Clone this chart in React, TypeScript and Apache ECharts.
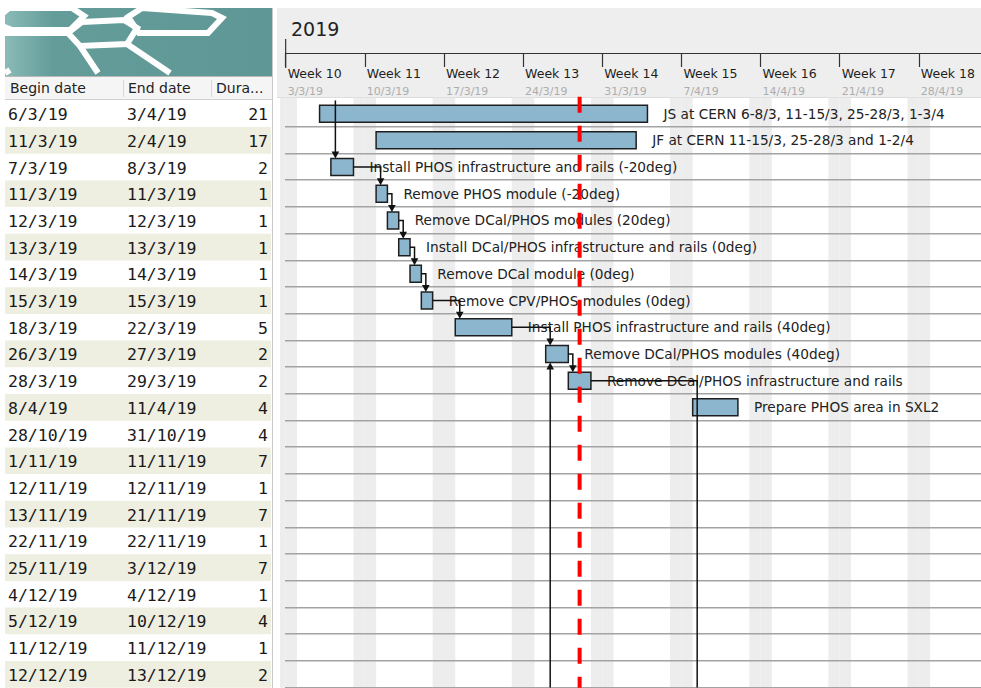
import React, { useEffect, useRef } from 'react';
import * as echarts from 'echarts';

// ---------- data ----------
const taskNames = [
  'JS at CERN 6-8/3, 11-15/3, 25-28/3, 1-3/4',
  'JF at CERN 11-15/3, 25-28/3 and 1-2/4',
  'Install PHOS infrastructure and rails (-20deg)',
  'Remove PHOS module (-20deg)',
  'Remove DCal/PHOS modules (20deg)',
  'Install DCal/PHOS infrastructure and rails (0deg)',
  'Remove DCal module (0deg)',
  'Remove CPV/PHOS modules (0deg)',
  'Install PHOS infrastructure and rails (40deg)',
  'Remove DCal/PHOS modules (40deg)',
  'Remove DCal/PHOS infrastructure and rails',
  'Prepare PHOS area in SXL2',
  '', '', '', '', '', '', '', '', '', '',
];
const beginDates = [
  '6/3/19', '11/3/19', '7/3/19', '11/3/19', '12/3/19', '13/3/19', '14/3/19', '15/3/19',
  '18/3/19', '26/3/19', '28/3/19', '8/4/19', '28/10/19', '1/11/19', '12/11/19', '13/11/19',
  '22/11/19', '25/11/19', '4/12/19', '5/12/19', '11/12/19', '12/12/19',
];
const endDates = [
  '3/4/19', '2/4/19', '8/3/19', '11/3/19', '12/3/19', '13/3/19', '14/3/19', '15/3/19',
  '22/3/19', '27/3/19', '29/3/19', '11/4/19', '31/10/19', '11/11/19', '12/11/19', '21/11/19',
  '22/11/19', '3/12/19', '4/12/19', '10/12/19', '11/12/19', '13/12/19',
];
const durations = [21, 17, 2, 1, 1, 1, 1, 1, 5, 2, 2, 4, 4, 7, 1, 7, 1, 7, 1, 4, 1, 2];
const columnTitles = ['Begin date', 'End date', 'Dura...'];
const yearLabel = '2019';
const weekLabels = ['Week 10', 'Week 11', 'Week 12', 'Week 13', 'Week 14', 'Week 15', 'Week 16', 'Week 17', 'Week 18'];
const weekStartLabels = ['3/3/19', '10/3/19', '17/3/19', '24/3/19', '31/3/19', '7/4/19', '14/4/19', '21/4/19', '28/4/19'];
const todayDate = '29/3/19';
// dependencies: -1 = predecessor above the view, 99 = task below the view
const depFrom = [-1, 2, 3, 4, 5, 6, 7, 8, 9, 10, 99];
const depTo = [2, 3, 4, 5, 6, 7, 8, 9, 10, 99, 9];
const offscreenSuccessorStart = '8/4/19';

// ---------- helpers ----------
const ORIGIN = Date.UTC(2019, 2, 3);
function dayOf(s: string): number {
  const [d, m, y] = s.split('/').map(Number);
  return Math.round((Date.UTC(2000 + y, m - 1, d) - ORIGIN) / 86400000);
}
const N = taskNames.length;
const X_MIN = -0.5;
const X_MAX = 61.5;
const GRID_LEFT = 280;
const GRID_W = 701;
const GRID_TOP = 100.3;
const ROW_H = 26.7;
const DAY_PX = GRID_W / (X_MAX - X_MIN);
const BAR_H = 17;

const barData = taskNames.map((_, i) => [dayOf(beginDates[i]), dayOf(endDates[i]) + 1, i]);
const weekendDays: number[] = [];
for (let d = Math.floor(X_MIN); d <= Math.ceil(X_MAX); d++) {
  const wd = ((d % 7) + 7) % 7;
  if (wd === 0 || wd === 6) weekendDays.push(d);
}
const depData = depFrom.map((f, k) => {
  const t = depTo[k];
  const fromEnd = f >= 0 && f < N ? dayOf(endDates[f]) + 1 : 0;
  const toStart = t >= 0 && t < N ? dayOf(beginDates[t]) : dayOf(offscreenSuccessorStart);
  const refRow = t >= 0 && t < N ? t : f;
  return [fromEnd, toStart, refRow, f, t];
});
const weekTicks = weekLabels.map((_, i) => i * 7);

const FONT = '"DejaVu Sans", "Noto Sans", sans-serif';

function hexPoly(points: number[][]) {
  return {
    type: 'polygon',
    shape: { points },
    style: { fill: 'none', stroke: '#ffffff', lineWidth: 6, lineJoin: 'miter' },
    z: 1,
  };
}
function whiteLine(points: number[][]) {
  return {
    type: 'polyline',
    shape: { points },
    style: { fill: 'none', stroke: '#ffffff', lineWidth: 6 },
    z: 1,
  };
}

export default function App() {
  const ref = useRef<HTMLDivElement>(null);
  useEffect(() => {
    const chart = echarts.init(ref.current!, null, { renderer: 'svg' });
    const option: any = {
      animation: false,
      backgroundColor: '#ffffff',
      grid: [
        { left: GRID_LEFT, top: GRID_TOP, width: GRID_W, height: N * ROW_H },
        { left: GRID_LEFT + 0.5 * DAY_PX, top: 53, width: GRID_W - 0.5 * DAY_PX, height: 40 },
        { left: 5, top: GRID_TOP, width: 267, height: N * ROW_H },
      ],
      xAxis: [
        { gridIndex: 0, type: 'value', min: X_MIN, max: X_MAX, show: false },
        {
          gridIndex: 1, type: 'value', min: 0, max: X_MAX, interval: 7, position: 'top', z: 5,
          axisLine: { show: true, onZero: false, lineStyle: { color: '#333', width: 1.2 } },
          axisTick: { show: true, inside: true, length: 14, lineStyle: { color: '#333', width: 1.2 }, customValues: weekTicks },
          splitLine: { show: false },
          axisLabel: {
            show: true, inside: true, margin: 13, align: 'left', verticalAlign: 'top',
            customValues: weekTicks,
            formatter: (v: number) => {
              const i = Math.round(v / 7);
              if (Math.abs(v - i * 7) > 0.01 || !weekLabels[i]) return '';
              return `{w|${weekLabels[i]}}\n{d|${weekStartLabels[i]}}`;
            },
            rich: {
              w: { fontFamily: FONT, fontSize: 12.5, color: '#1e1e1e', lineHeight: 15, padding: [0, 0, 0, 2] },
              d: { fontFamily: FONT, fontSize: 11, color: '#adadad', lineHeight: 21, padding: [0, 0, 0, 2] },
            },
          },
        },
        { gridIndex: 2, type: 'value', min: 0, max: 1, show: false },
      ],
      yAxis: [
        { gridIndex: 0, type: 'category', data: taskNames.map((_, i) => i), inverse: true, show: false },
        { gridIndex: 1, type: 'value', min: 0, max: 1, show: false },
        { gridIndex: 2, type: 'category', data: taskNames.map((_, i) => i), inverse: true, show: false },
      ],
      graphic: [
        // logo
        {
          type: 'rect', shape: { x: 5, y: 8, width: 267, height: 68 }, z: 0,
          style: {
            fill: new echarts.graphic.LinearGradient(0, 0, 1, 0, [
              { offset: 0, color: '#8abbb8' },
              { offset: 0.18, color: '#639c99' },
              { offset: 1, color: '#5e9795' },
            ]),
          },
        },
        hexPoly([[-8, 22], [9, 8], [72, 8], [84, 16], [70, 30], [12, 30]]),
        hexPoly([[68, 33], [82, 22], [124, 20], [137, 28], [127, 44], [80, 46]]),
        hexPoly([[128, 17], [142, 8], [212, 13], [222, 18], [208, 33], [139, 33]]),
        whiteLine([[5, 33], [68, 33]]),
        whiteLine([[80, 46], [98, 73]]),
        whiteLine([[127, 44], [170, 73]]),
        whiteLine([[5, 73], [10, 70]]),
        // table header
        { type: 'rect', shape: { x: 5, y: 77, width: 267, height: 22 }, style: { fill: '#f5f5f5' }, z: 0 },
        { type: 'line', shape: { x1: 5, y1: 76.5, x2: 272, y2: 76.5 }, style: { stroke: '#b9b9b9', lineWidth: 1 }, z: 1 },
        { type: 'line', shape: { x1: 5, y1: 99.5, x2: 272, y2: 99.5 }, style: { stroke: '#d0d0d0', lineWidth: 1 }, z: 1 },
        { type: 'line', shape: { x1: 123.5, y1: 80, x2: 123.5, y2: 97 }, style: { stroke: '#d8d8d8', lineWidth: 1 }, z: 1 },
        { type: 'line', shape: { x1: 211.5, y1: 80, x2: 211.5, y2: 97 }, style: { stroke: '#d8d8d8', lineWidth: 1 }, z: 1 },
        { type: 'text', x: 10, y: 88, style: { text: columnTitles[0], font: `14px ${FONT}`, fill: '#222', verticalAlign: 'middle' }, z: 2 },
        { type: 'text', x: 128, y: 88, style: { text: columnTitles[1], font: `14px ${FONT}`, fill: '#222', verticalAlign: 'middle' }, z: 2 },
        { type: 'text', x: 216, y: 88, style: { text: columnTitles[2], font: `14px ${FONT}`, fill: '#222', verticalAlign: 'middle' }, z: 2 },
        // separator
        { type: 'line', shape: { x1: 272.5, y1: 8, x2: 272.5, y2: 688 }, style: { stroke: '#c8c8c8', lineWidth: 1 }, z: 1 },
        // gantt header panel
        { type: 'rect', shape: { x: 277, y: 8, width: 704, height: 90 }, style: { fill: '#eeeeee' }, z: 0 },
        { type: 'line', shape: { x1: 277, y1: 97.5, x2: 981, y2: 97.5 }, style: { stroke: '#dddddd', lineWidth: 1 }, z: 1 },
        { type: 'text', x: 291, y: 29, style: { text: yearLabel, font: `19px ${FONT}`, fill: '#222', verticalAlign: 'middle' }, z: 2 },
        { type: 'line', shape: { x1: GRID_LEFT + 0.5 * DAY_PX, y1: 39, x2: GRID_LEFT + 0.5 * DAY_PX, y2: 68 }, style: { stroke: '#333', lineWidth: 1.2 }, z: 6 },
      ],
      series: [
        // weekend stripes
        {
          type: 'custom', xAxisIndex: 0, yAxisIndex: 0, z: 1, clip: false, silent: true,
          data: weekendDays.map((d) => [d, 0]),
          encode: { x: 0, y: 1 },
          renderItem: (params: any, api: any) => {
            const cs = params.coordSys;
            const d = api.value(0);
            let x0 = api.coord([d, 0])[0];
            let x1 = api.coord([d + 1, 0])[0];
            x0 = Math.max(x0, cs.x);
            x1 = Math.min(x1, cs.x + cs.width);
            if (x1 <= x0) return null;
            return {
              type: 'rect',
              shape: { x: x0, y: cs.y - 2.5, width: x1 - x0, height: cs.height + 2.5 },
              style: { fill: '#ededed' },
            };
          },
        },
        // row lines
        {
          type: 'custom', xAxisIndex: 0, yAxisIndex: 0, z: 2, clip: false, silent: true,
          data: taskNames.map((_, i) => [0, i]),
          encode: { x: 0, y: 1 },
          renderItem: (params: any, api: any) => {
            const cs = params.coordSys;
            const c = api.coord([0, api.value(1)]);
            const h = api.size([0, 1])[1];
            const y = Math.round(c[1] + h / 2) - 0.25;
            return {
              type: 'line',
              shape: { x1: cs.x + 5, y1: y, x2: cs.x + cs.width, y2: y },
              style: { stroke: '#a3a3a3', lineWidth: 1.5 },
            };
          },
        },
        // task bars
        {
          type: 'custom', xAxisIndex: 0, yAxisIndex: 0, z: 3, clip: true,
          data: barData,
          encode: { x: [0, 1], y: 2 },
          renderItem: (params: any, api: any) => {
            const row = api.value(2);
            const p0 = api.coord([api.value(0), row]);
            const p1 = api.coord([api.value(1), row]);
            return {
              type: 'group',
              children: [
                {
                  type: 'rect',
                  shape: { x: p0[0], y: p0[1] - BAR_H / 2, width: p1[0] - p0[0], height: BAR_H },
                  style: { fill: '#8cb6ce', stroke: '#1f1f1f', lineWidth: 1.5 },
                },
                {
                  type: 'text', x: p1[0] + 16, y: p0[1],
                  style: { text: taskNames[row], font: `13.7px ${FONT}`, fill: '#222', verticalAlign: 'middle', align: 'left' },
                },
              ],
            };
          },
        },
        // dependencies
        {
          type: 'custom', xAxisIndex: 0, yAxisIndex: 0, z: 4, clip: true, silent: true,
          data: depData,
          encode: { x: [0, 1], y: 2 },
          renderItem: (params: any, api: any) => {
            const cs = params.coordSys;
            const fromEnd = api.value(0);
            const toStart = api.value(1);
            const from = api.value(3);
            const to = api.value(4);
            const top = cs.y;
            const bottom = cs.y + cs.height;
            const xTo = api.coord([toStart, 0])[0] + 4.5;
            const lineStyle = { stroke: '#111', lineWidth: 1.5, fill: 'none' };
            const children: any[] = [];
            const arrow = (x: number, y: number, up: boolean) => ({
              type: 'polygon',
              shape: { points: up ? [[x - 3.8, y + 7], [x + 3.8, y + 7], [x, y]] : [[x - 3.8, y - 7], [x + 3.8, y - 7], [x, y]] },
              style: { fill: '#111' },
            });
            if (from < 0) {
              const yT = api.coord([toStart, to])[1] - BAR_H / 2;
              children.push({ type: 'polyline', shape: { points: [[xTo, top], [xTo, yT - 5]] }, style: lineStyle });
              children.push(arrow(xTo, yT, false));
            } else if (from >= N) {
              const yT = api.coord([toStart, to])[1] + BAR_H / 2;
              children.push({ type: 'polyline', shape: { points: [[xTo, bottom], [xTo, yT + 5]] }, style: lineStyle });
              children.push(arrow(xTo, yT, true));
            } else {
              const pf = api.coord([fromEnd, from]);
              if (to >= N) {
                children.push({ type: 'polyline', shape: { points: [[pf[0], pf[1]], [xTo, pf[1]], [xTo, bottom]] }, style: lineStyle });
              } else {
                const yT = api.coord([toStart, to])[1] - BAR_H / 2;
                children.push({ type: 'polyline', shape: { points: [[pf[0], pf[1]], [xTo, pf[1]], [xTo, yT - 5]] }, style: lineStyle });
                children.push(arrow(xTo, yT, false));
              }
            }
            return { type: 'group', children };
          },
        },
        // today line
        {
          type: 'custom', xAxisIndex: 0, yAxisIndex: 0, z: 6, clip: false, silent: true,
          data: [[dayOf(todayDate), 0]],
          encode: { x: 0, y: 1 },
          renderItem: (params: any, api: any) => {
            const cs = params.coordSys;
            const x = api.coord([api.value(0), 0])[0];
            return {
              type: 'line',
              shape: { x1: x, y1: cs.y - 3.5, x2: x, y2: cs.y + cs.height },
              style: { stroke: '#ff0000', lineWidth: 4, lineDash: [16, 13] },
            };
          },
        },
        // table rows
        {
          type: 'custom', xAxisIndex: 2, yAxisIndex: 2, z: 2, clip: false, silent: true,
          data: taskNames.map((_, i) => [0, i]),
          encode: { x: 0, y: 1 },
          renderItem: (params: any, api: any) => {
            const cs = params.coordSys;
            const i = api.value(1);
            const c = api.coord([0, i]);
            const h = api.size([0, 1])[1];
            const tf = `16.5px "DejaVu Sans Mono", monospace`;
            const children: any[] = [];
            if (i % 2 === 1) {
              children.push({
                type: 'rect',
                shape: { x: cs.x, y: c[1] - h / 2, width: cs.width - 1, height: h },
                style: { fill: '#eeeee1' },
              });
            }
            const ty = c[1] + 1;
            children.push({ type: 'text', x: cs.x + 3, y: ty, style: { text: beginDates[i], font: tf, fill: '#1a1a1a', verticalAlign: 'middle' } });
            children.push({ type: 'text', x: cs.x + 122, y: ty, style: { text: endDates[i], font: tf, fill: '#1a1a1a', verticalAlign: 'middle' } });
            children.push({ type: 'text', x: cs.x + 263, y: ty, style: { text: String(durations[i]), font: tf, fill: '#1a1a1a', verticalAlign: 'middle', align: 'right' } });
            return { type: 'group', children };
          },
        },
      ],
    };
    chart.setOption(option);
    return () => chart.dispose();
  }, []);
  return (
    <div
      ref={ref}
      style={{ position: 'fixed', left: 0, top: 0, width: 981, height: 688, background: '#ffffff' }}
    />
  );
}
